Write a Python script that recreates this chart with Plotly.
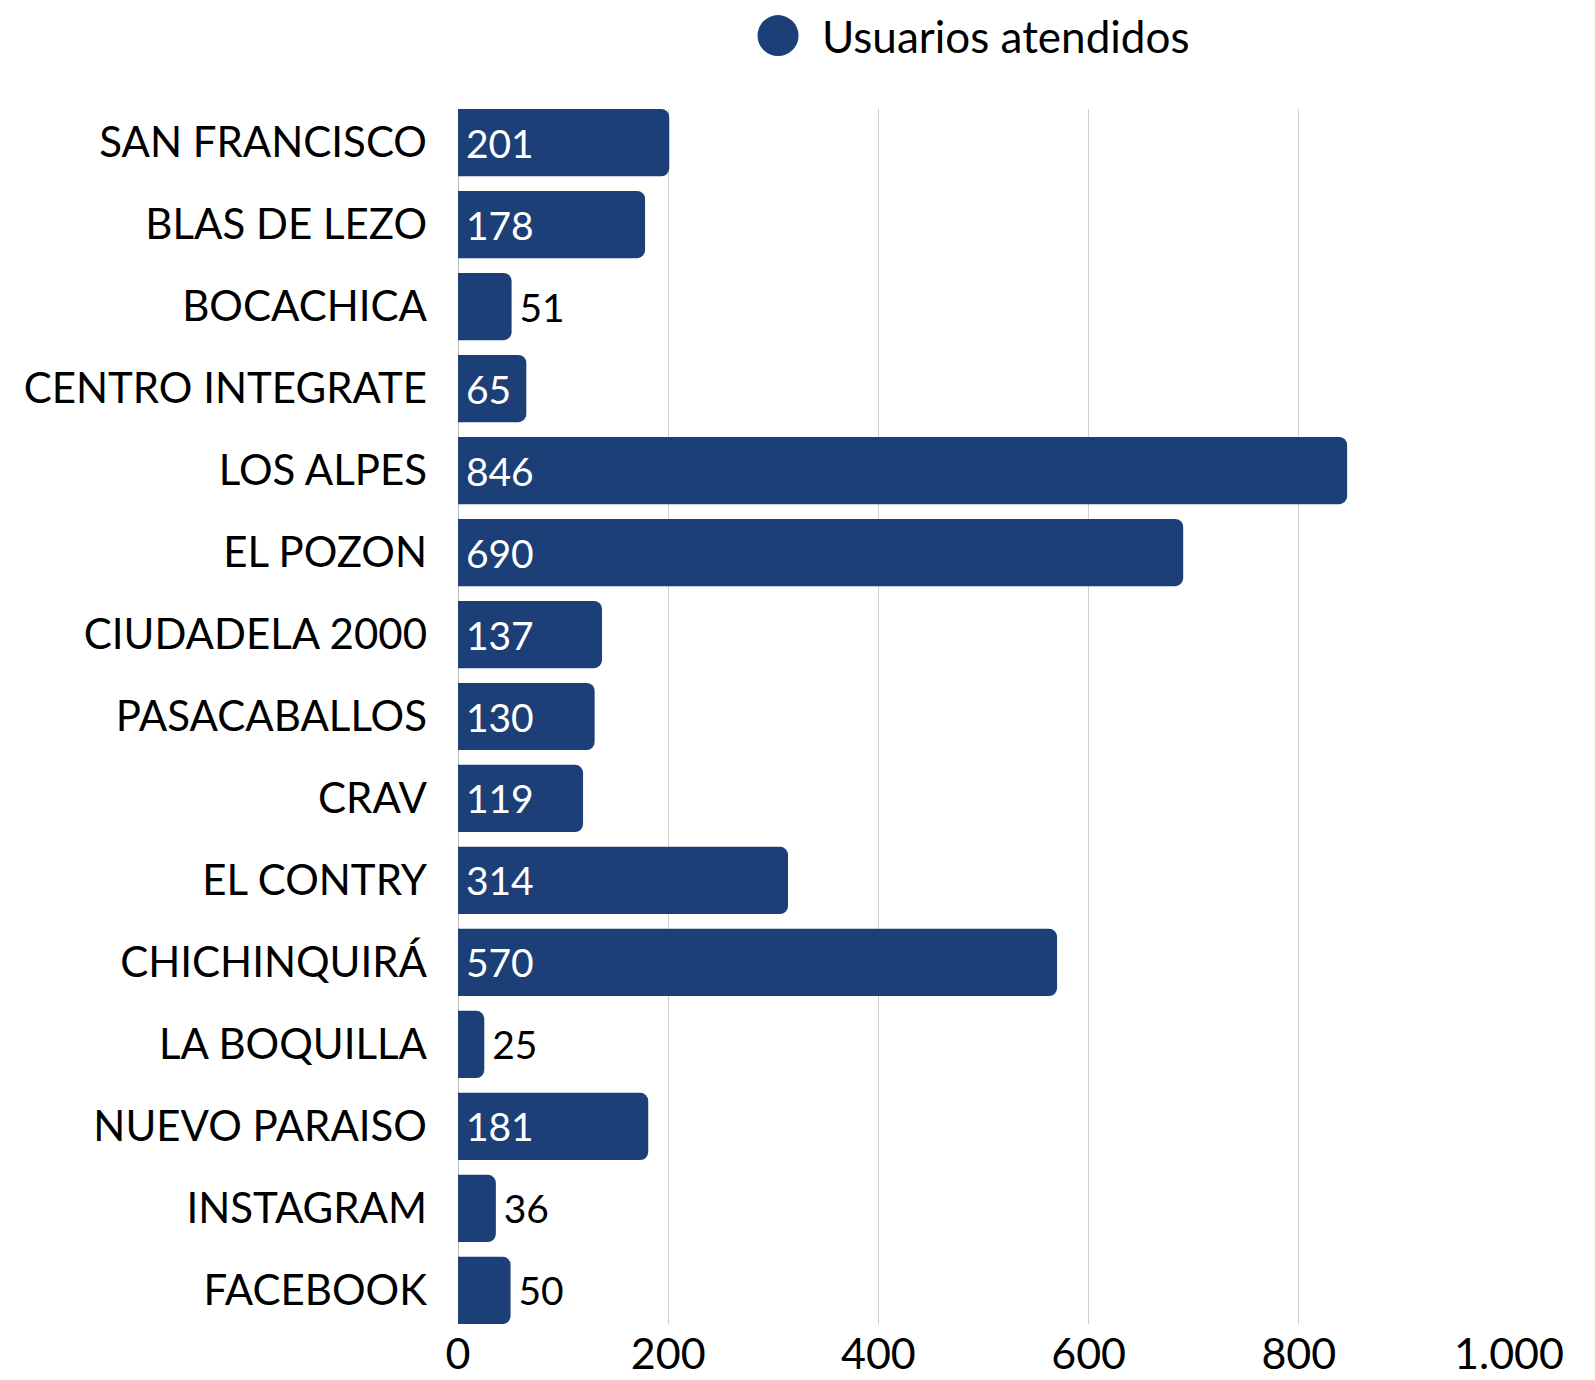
import plotly.graph_objects as go

# sedes / canales y usuarios atendidos
sedes = ["SAN FRANCISCO", "BLAS DE LEZO", "BOCACHICA", "CENTRO INTEGRATE", "LOS ALPES",
         "EL POZON", "CIUDADELA 2000", "PASACABALLOS", "CRAV", "EL CONTRY",
         "CHICHINQUIRÁ", "LA BOQUILLA", "NUEVO PARAISO", "INSTAGRAM", "FACEBOOK"]
usuarios = [201, 178, 51, 65, 846, 690, 137, 130, 119, 314, 570, 25, 181, 36, 50]
x_ticks = [0, 200, 400, 600, 800, 1000]

AZUL = "#1b3f76"
FONT = "Lato"
gap = 0.18
w = 1 - gap

# small bars get their label outside
pos = ["inside" if v >= 60 else "outside" for v in usuarios]

fig = go.Figure()
fig.add_trace(go.Bar(
    y=sedes, x=usuarios, orientation="h",
    marker=dict(color=AZUL, line=dict(width=0), cornerradius=8),
    text=["\u2009" + str(v) for v in usuarios],
    textposition=pos, insidetextanchor="start",
    insidetextfont=dict(color="white", size=39, family=FONT),
    outsidetextfont=dict(color="black", size=39, family=FONT),
    constraintext="none", cliponaxis=False,
    showlegend=False, name="Usuarios atendidos",
))

# legend drawn by hand (big round marker)
fig.add_shape(type="circle", xref="paper", yref="paper",
              xsizemode="pixel", ysizemode="pixel",
              xanchor=0.3045, yanchor=1.0604,
              x0=-20.5, x1=20.5, y0=-20.5, y1=20.5,
              fillcolor=AZUL, line=dict(width=0))
fig.add_annotation(text="Usuarios atendidos", xref="paper", yref="paper",
                   x=0.3444, y=1.0604, xanchor="left", yanchor="middle",
                   showarrow=False, font=dict(size=44, color="black", family=FONT))

fig.update_layout(
    width=1595, height=1380,
    margin=dict(l=450, r=94, t=101, b=64),
    bargap=gap,
    plot_bgcolor="white", paper_bgcolor="white",
    separators=",.",
    font=dict(family=FONT, size=40, color="black"),
)
fig.update_xaxes(range=[0, 1000], tickvals=x_ticks, tickformat=",d",
                 showgrid=True, gridcolor="#d0d0d0", gridwidth=1,
                 zeroline=True, zerolinecolor="#bbbbbb", zerolinewidth=1,
                 showline=False, ticks="", ticklabelstandoff=1, automargin=False,
                 tickfont=dict(size=43, color="black", family=FONT))
fig.update_yaxes(range=[len(sedes) - 1 + w / 2, -w / 2], showgrid=False,
                 ticks="", ticklabelstandoff=30, automargin=False,
                 tickfont=dict(size=42, color="black", family=FONT))

fig.write_html("out.html")
